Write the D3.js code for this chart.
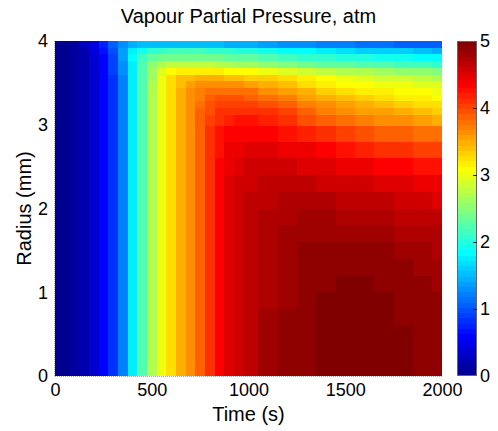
<!DOCTYPE html>
<meta charset="utf-8">
<style>
body { margin: 0; background: #fff; }
text { font-family: "Liberation Sans", Arial, Helvetica, sans-serif; fill: #000; }
</style>
<body>
<script src="https://cdn.jsdelivr.net/npm/d3@7"></script>
<script>

	var title = "Vapour Partial Pressure, atm";
	var xLabel = "Time (s)";
	var yLabel = "Radius (mm)";

	var xTicks = [0, 500, 1000, 1500, 2000];
	var yTicks = [0, 1, 2, 3, 4];
	var barTicks = [0, 1, 2, 3, 4, 5];

	// time of each column (s)
	var times = [0, 50, 100, 150, 200, 250, 300, 350, 400, 450, 500, 550, 600, 650, 700, 750,
		800, 850, 900, 950, 1000, 1100, 1200, 1300, 1400, 1500, 1600, 1700, 1800, 1900, 2000];

	// radius of each row (mm), finer near the surface
	var radii = [0.1, 0.3, 0.5, 0.7, 0.9, 1.1, 1.3, 1.5, 1.7, 1.9, 2.1, 2.3, 2.5, 2.7, 2.9,
		3.08, 3.16, 3.24, 3.32, 3.40, 3.48, 3.56, 3.64, 3.72, 3.80, 3.88, 3.96];

	// pressure (atm), one list per time, radius going up
	var pressure = [
		[0,0,0,0,0,0,0,0,0,0,0,0,0,0,0,0,0,0,0,0,0,0,0,0,0,0,0],
		[0.05,0.05,0.05,0.05,0.05,0.05,0.05,0.05,0.05,0.05,0.05,0.05,0.05,0.05,0.05,0.05,0.05,0.05,0.05,0.05,0.05,0.05,0.05,0.05,0.05,0.05,0.05],
		[0.12,0.12,0.12,0.12,0.12,0.12,0.12,0.12,0.12,0.12,0.12,0.12,0.12,0.12,0.12,0.12,0.12,0.12,0.12,0.12,0.12,0.12,0.12,0.12,0.12,0.12,0.12],
		[0.22,0.22,0.22,0.22,0.22,0.22,0.22,0.22,0.22,0.22,0.22,0.22,0.22,0.22,0.22,0.22,0.22,0.22,0.22,0.22,0.22,0.22,0.22,0.22,0.22,0.22,0.24],
		[0.36,0.36,0.36,0.36,0.36,0.36,0.36,0.36,0.36,0.36,0.36,0.36,0.36,0.36,0.36,0.36,0.36,0.36,0.36,0.36,0.36,0.36,0.36,0.37,0.38,0.40,0.45],
		[0.56,0.56,0.56,0.56,0.56,0.56,0.56,0.56,0.56,0.56,0.56,0.56,0.56,0.56,0.56,0.56,0.56,0.56,0.56,0.56,0.56,0.56,0.57,0.58,0.60,0.66,0.75],
		[0.84,0.84,0.84,0.84,0.84,0.84,0.84,0.84,0.84,0.84,0.84,0.84,0.84,0.84,0.84,0.84,0.84,0.84,0.84,0.84,0.84,0.85,0.86,0.88,0.93,1.00,1.05],
		[1.22,1.22,1.22,1.22,1.22,1.22,1.22,1.22,1.22,1.22,1.22,1.22,1.22,1.22,1.22,1.22,1.22,1.22,1.22,1.22,1.22,1.23,1.25,1.28,1.33,1.38,1.30],
		[1.72,1.72,1.72,1.72,1.72,1.72,1.72,1.72,1.72,1.72,1.72,1.72,1.72,1.72,1.72,1.72,1.72,1.72,1.72,1.72,1.72,1.73,1.75,1.77,1.80,1.75,1.45],
		[2.22,2.22,2.22,2.22,2.22,2.22,2.22,2.22,2.22,2.22,2.22,2.22,2.22,2.22,2.22,2.22,2.22,2.22,2.22,2.22,2.22,2.22,2.22,2.20,2.15,1.95,1.52],
		[2.66,2.66,2.66,2.66,2.66,2.66,2.66,2.66,2.66,2.66,2.66,2.66,2.66,2.66,2.66,2.66,2.66,2.66,2.66,2.66,2.66,2.65,2.62,2.55,2.33,2.05,1.55],
		[3.02,3.02,3.02,3.02,3.02,3.02,3.02,3.02,3.02,3.02,3.02,3.02,3.02,3.02,3.02,3.02,3.02,3.02,3.02,3.02,3.02,3.00,2.95,2.72,2.40,2.10,1.56],
		[3.28,3.28,3.28,3.28,3.28,3.28,3.28,3.28,3.28,3.28,3.28,3.28,3.28,3.28,3.28,3.28,3.28,3.28,3.28,3.27,3.26,3.22,3.10,2.78,2.42,2.12,1.55],
		[3.46,3.46,3.46,3.46,3.46,3.46,3.46,3.46,3.46,3.46,3.46,3.46,3.46,3.46,3.46,3.46,3.46,3.46,3.46,3.45,3.43,3.36,3.15,2.80,2.42,2.12,1.54],
		[3.67,3.67,3.67,3.67,3.67,3.67,3.67,3.67,3.67,3.67,3.67,3.67,3.67,3.67,3.67,3.67,3.67,3.66,3.64,3.62,3.57,3.42,3.17,2.79,2.41,2.12,1.53],
		[3.90,3.90,3.90,3.90,3.90,3.90,3.90,3.90,3.90,3.90,3.90,3.90,3.90,3.90,3.90,3.86,3.83,3.79,3.74,3.68,3.60,3.44,3.17,2.77,2.40,2.11,1.53],
		[4.12,4.12,4.12,4.12,4.12,4.12,4.12,4.12,4.12,4.12,4.12,4.12,4.12,4.12,4.08,4.02,3.97,3.91,3.84,3.76,3.64,3.45,3.16,2.74,2.38,2.10,1.52],
		[4.33,4.33,4.33,4.33,4.33,4.33,4.33,4.33,4.33,4.33,4.33,4.33,4.32,4.29,4.23,4.14,4.08,4.00,3.91,3.81,3.66,3.44,3.14,2.71,2.36,2.08,1.50],
		[4.47,4.47,4.47,4.47,4.47,4.47,4.47,4.47,4.47,4.47,4.47,4.46,4.44,4.39,4.31,4.20,4.12,4.03,3.93,3.81,3.64,3.42,3.12,2.67,2.34,2.06,1.48],
		[4.58,4.58,4.58,4.58,4.58,4.58,4.58,4.58,4.58,4.58,4.57,4.55,4.51,4.44,4.34,4.22,4.13,4.03,3.92,3.79,3.60,3.38,3.09,2.63,2.31,2.03,1.45],
		[4.66,4.66,4.66,4.66,4.66,4.66,4.66,4.66,4.65,4.64,4.62,4.59,4.54,4.46,4.35,4.22,4.12,4.01,3.89,3.75,3.56,3.35,3.06,2.60,2.28,2.00,1.43],
		[4.77,4.77,4.77,4.77,4.76,4.76,4.75,4.74,4.73,4.71,4.67,4.62,4.55,4.46,4.33,4.18,4.07,3.95,3.82,3.67,3.48,3.29,3.00,2.53,2.22,1.93,1.38],
		[4.85,4.85,4.85,4.85,4.84,4.84,4.83,4.81,4.78,4.75,4.70,4.63,4.54,4.43,4.28,4.11,3.99,3.86,3.72,3.57,3.38,3.21,2.93,2.46,2.16,1.87,1.32],
		[4.90,4.90,4.90,4.90,4.89,4.89,4.88,4.86,4.82,4.77,4.71,4.62,4.52,4.38,4.18,3.97,3.85,3.72,3.59,3.45,3.28,3.13,2.86,2.40,2.10,1.80,1.27],
		[4.93,4.93,4.93,4.93,4.93,4.92,4.90,4.87,4.83,4.77,4.70,4.60,4.48,4.32,4.08,3.85,3.72,3.60,3.47,3.34,3.19,3.06,2.78,2.34,2.05,1.72,1.22],
		[4.95,4.95,4.95,4.94,4.94,4.93,4.90,4.87,4.82,4.76,4.68,4.57,4.44,4.26,4.02,3.78,3.65,3.52,3.39,3.27,3.12,3.00,2.72,2.29,2.00,1.67,1.20],
		[4.95,4.95,4.95,4.94,4.94,4.93,4.90,4.86,4.81,4.74,4.65,4.54,4.40,4.20,3.96,3.71,3.58,3.45,3.32,3.19,3.07,2.94,2.66,2.24,1.96,1.63,1.17],
		[4.94,4.94,4.94,4.94,4.93,4.92,4.89,4.85,4.79,4.71,4.61,4.50,4.35,4.14,3.90,3.65,3.52,3.39,3.26,3.13,3.03,2.88,2.60,2.20,1.92,1.60,1.13],
		[4.93,4.93,4.93,4.92,4.91,4.90,4.87,4.82,4.76,4.68,4.58,4.46,4.30,4.09,3.85,3.60,3.46,3.33,3.20,3.09,2.99,2.82,2.55,2.16,1.88,1.58,1.09],
		[4.92,4.92,4.91,4.90,4.89,4.87,4.84,4.79,4.73,4.65,4.55,4.43,4.26,4.04,3.80,3.55,3.40,3.27,3.14,3.06,2.95,2.76,2.50,2.12,1.84,1.53,1.06],
		[4.88,4.88,4.87,4.86,4.85,4.83,4.80,4.75,4.69,4.61,4.51,4.40,4.22,4.00,3.75,3.50,3.35,3.22,3.12,3.04,2.90,2.70,2.45,2.08,1.80,1.47,1.04]
	];

	var width = 498,
		height = 431;

	var plotLeft = 55, plotRight = 442, plotTop = 41, plotBottom = 376;
	var barLeft = 457, barRight = 477;

	var tickFontSize = "18px";
	var labelFontSize = "20px";

	// MATLAB style jet colormap
	function jet(m) {
		var n = Math.ceil(m / 4);
		var u = [];
		for (var i = 1; i <= n; i++) u.push(i / n);
		for (var i = 1; i < n; i++) u.push(1);
		for (var i = n; i >= 1; i--) u.push(i / n);
		var g0 = Math.ceil(n / 2) - (m % 4 == 1 ? 1 : 0);
		var out = [];
		for (var i = 1; i <= m; i++) {
			var r = u[i - g0 - n - 1] || 0;
			var g = u[i - g0 - 1] || 0;
			var b = u[i - g0 + n - 1] || 0;
			out.push(d3.rgb(r * 255, g * 255, b * 255).formatHex());
		}
		return out;
	}

	var colours = jet(64);
	var colourScale = d3.scaleQuantize().domain([0, 5]).range(colours);

	// cell boundaries halfway between neighbouring samples
	function cellEdges(c, lo, hi) {
		var e = [lo];
		for (var i = 1; i < c.length; i++) e.push((c[i - 1] + c[i]) / 2);
		e.push(hi);
		return e;
	}

	var x = d3.scaleLinear().domain([0, 2000]).range([plotLeft, plotRight]);
	var y = d3.scaleLinear().domain([0, 4]).range([plotBottom, plotTop]);

	var tEdges = cellEdges(times, 0, 2000);
	var rEdges = cellEdges(radii, 0, 4);

	var cells = [];
	for (var j = 0; j < times.length; j++) {
		for (var i = 0; i < radii.length; i++) {
			cells.push({j: j, i: i, v: pressure[j][i]});
		}
	}

	var svg = d3.select("body").append("svg")
		.attr("width", width)
		.attr("height", height);

	svg.append("g")
		.attr("shape-rendering", "crispEdges")
		.selectAll("rect")
		.data(cells)
		.join("rect")
			.attr("x", function(d) { return Math.round(x(tEdges[d.j])); })
			.attr("width", function(d) { return Math.round(x(tEdges[d.j + 1])) - Math.round(x(tEdges[d.j])); })
			.attr("y", function(d) { return Math.round(y(rEdges[d.i + 1])); })
			.attr("height", function(d) { return Math.round(y(rEdges[d.i])) - Math.round(y(rEdges[d.i + 1])); })
			.attr("fill", function(d) { return colourScale(d.v); });

	// faint dotted axis lines along left and bottom
	svg.append("path")
		.attr("d", "M" + (plotLeft - 0.5) + "," + plotTop + "V" + (plotBottom + 0.5) + "H" + plotRight)
		.attr("fill", "none")
		.attr("stroke", "#aaa")
		.attr("stroke-width", 1)
		.attr("stroke-dasharray", "1,1");

	var fmt = d3.format("d");

	var xAxis = svg.append("g")
		.attr("transform", "translate(0," + plotBottom + ")")
		.call(d3.axisBottom(x).tickValues(xTicks).tickFormat(fmt).tickSize(0).tickPadding(7));
	var yAxis = svg.append("g")
		.attr("transform", "translate(" + plotLeft + ",0)")
		.call(d3.axisLeft(y).tickValues(yTicks).tickFormat(fmt).tickSize(0).tickPadding(7));
	[xAxis, yAxis].forEach(function(a) {
		a.select(".domain").remove();
		a.selectAll("text").style("font-size", tickFontSize).style("font-family", null);
	});

	// colour bar
	var yBar = d3.scaleLinear().domain([0, 5]).range([plotBottom, plotTop]);
	var step = 5 / colours.length;
	svg.append("g")
		.attr("shape-rendering", "crispEdges")
		.selectAll("rect")
		.data(colours)
		.join("rect")
			.attr("x", barLeft)
			.attr("width", barRight - barLeft)
			.attr("y", function(c, k) { return Math.round(yBar((k + 1) * step)); })
			.attr("height", function(c, k) { return Math.round(yBar(k * step)) - Math.round(yBar((k + 1) * step)); })
			.attr("fill", function(c) { return c; });

	svg.append("rect")
		.attr("x", barLeft + 0.5)
		.attr("y", plotTop + 0.5)
		.attr("width", barRight - barLeft - 1)
		.attr("height", plotBottom - plotTop - 1)
		.attr("fill", "none")
		.attr("stroke", "#666")
		.attr("stroke-width", 1);

	svg.append("g")
		.selectAll("line")
		.data(barTicks.slice(1, -1))
		.join("line")
			.attr("x1", barRight - 4)
			.attr("x2", barRight)
			.attr("y1", function(d) { return Math.round(yBar(d)) + 0.5; })
			.attr("y2", function(d) { return Math.round(yBar(d)) + 0.5; })
			.attr("stroke", "#222")
			.attr("stroke-width", 1);

	var barAxis = svg.append("g")
		.attr("transform", "translate(" + barRight + ",0)")
		.call(d3.axisRight(yBar).tickValues(barTicks).tickFormat(fmt).tickSize(0).tickPadding(3));
	barAxis.select(".domain").remove();
	barAxis.selectAll("text").style("font-size", tickFontSize).style("font-family", null);

	// titles
	svg.append("text")
		.attr("x", (plotLeft + plotRight) / 2)
		.attr("y", 23)
		.attr("text-anchor", "middle")
		.style("font-size", labelFontSize)
		.text(title);

	svg.append("text")
		.attr("x", (plotLeft + plotRight) / 2)
		.attr("y", 421)
		.attr("text-anchor", "middle")
		.style("font-size", labelFontSize)
		.text(xLabel);

	svg.append("text")
		.attr("transform", "translate(31," + (plotTop + plotBottom) / 2 + ") rotate(-90)")
		.attr("text-anchor", "middle")
		.style("font-size", labelFontSize)
		.text(yLabel);

</script>
</body>
